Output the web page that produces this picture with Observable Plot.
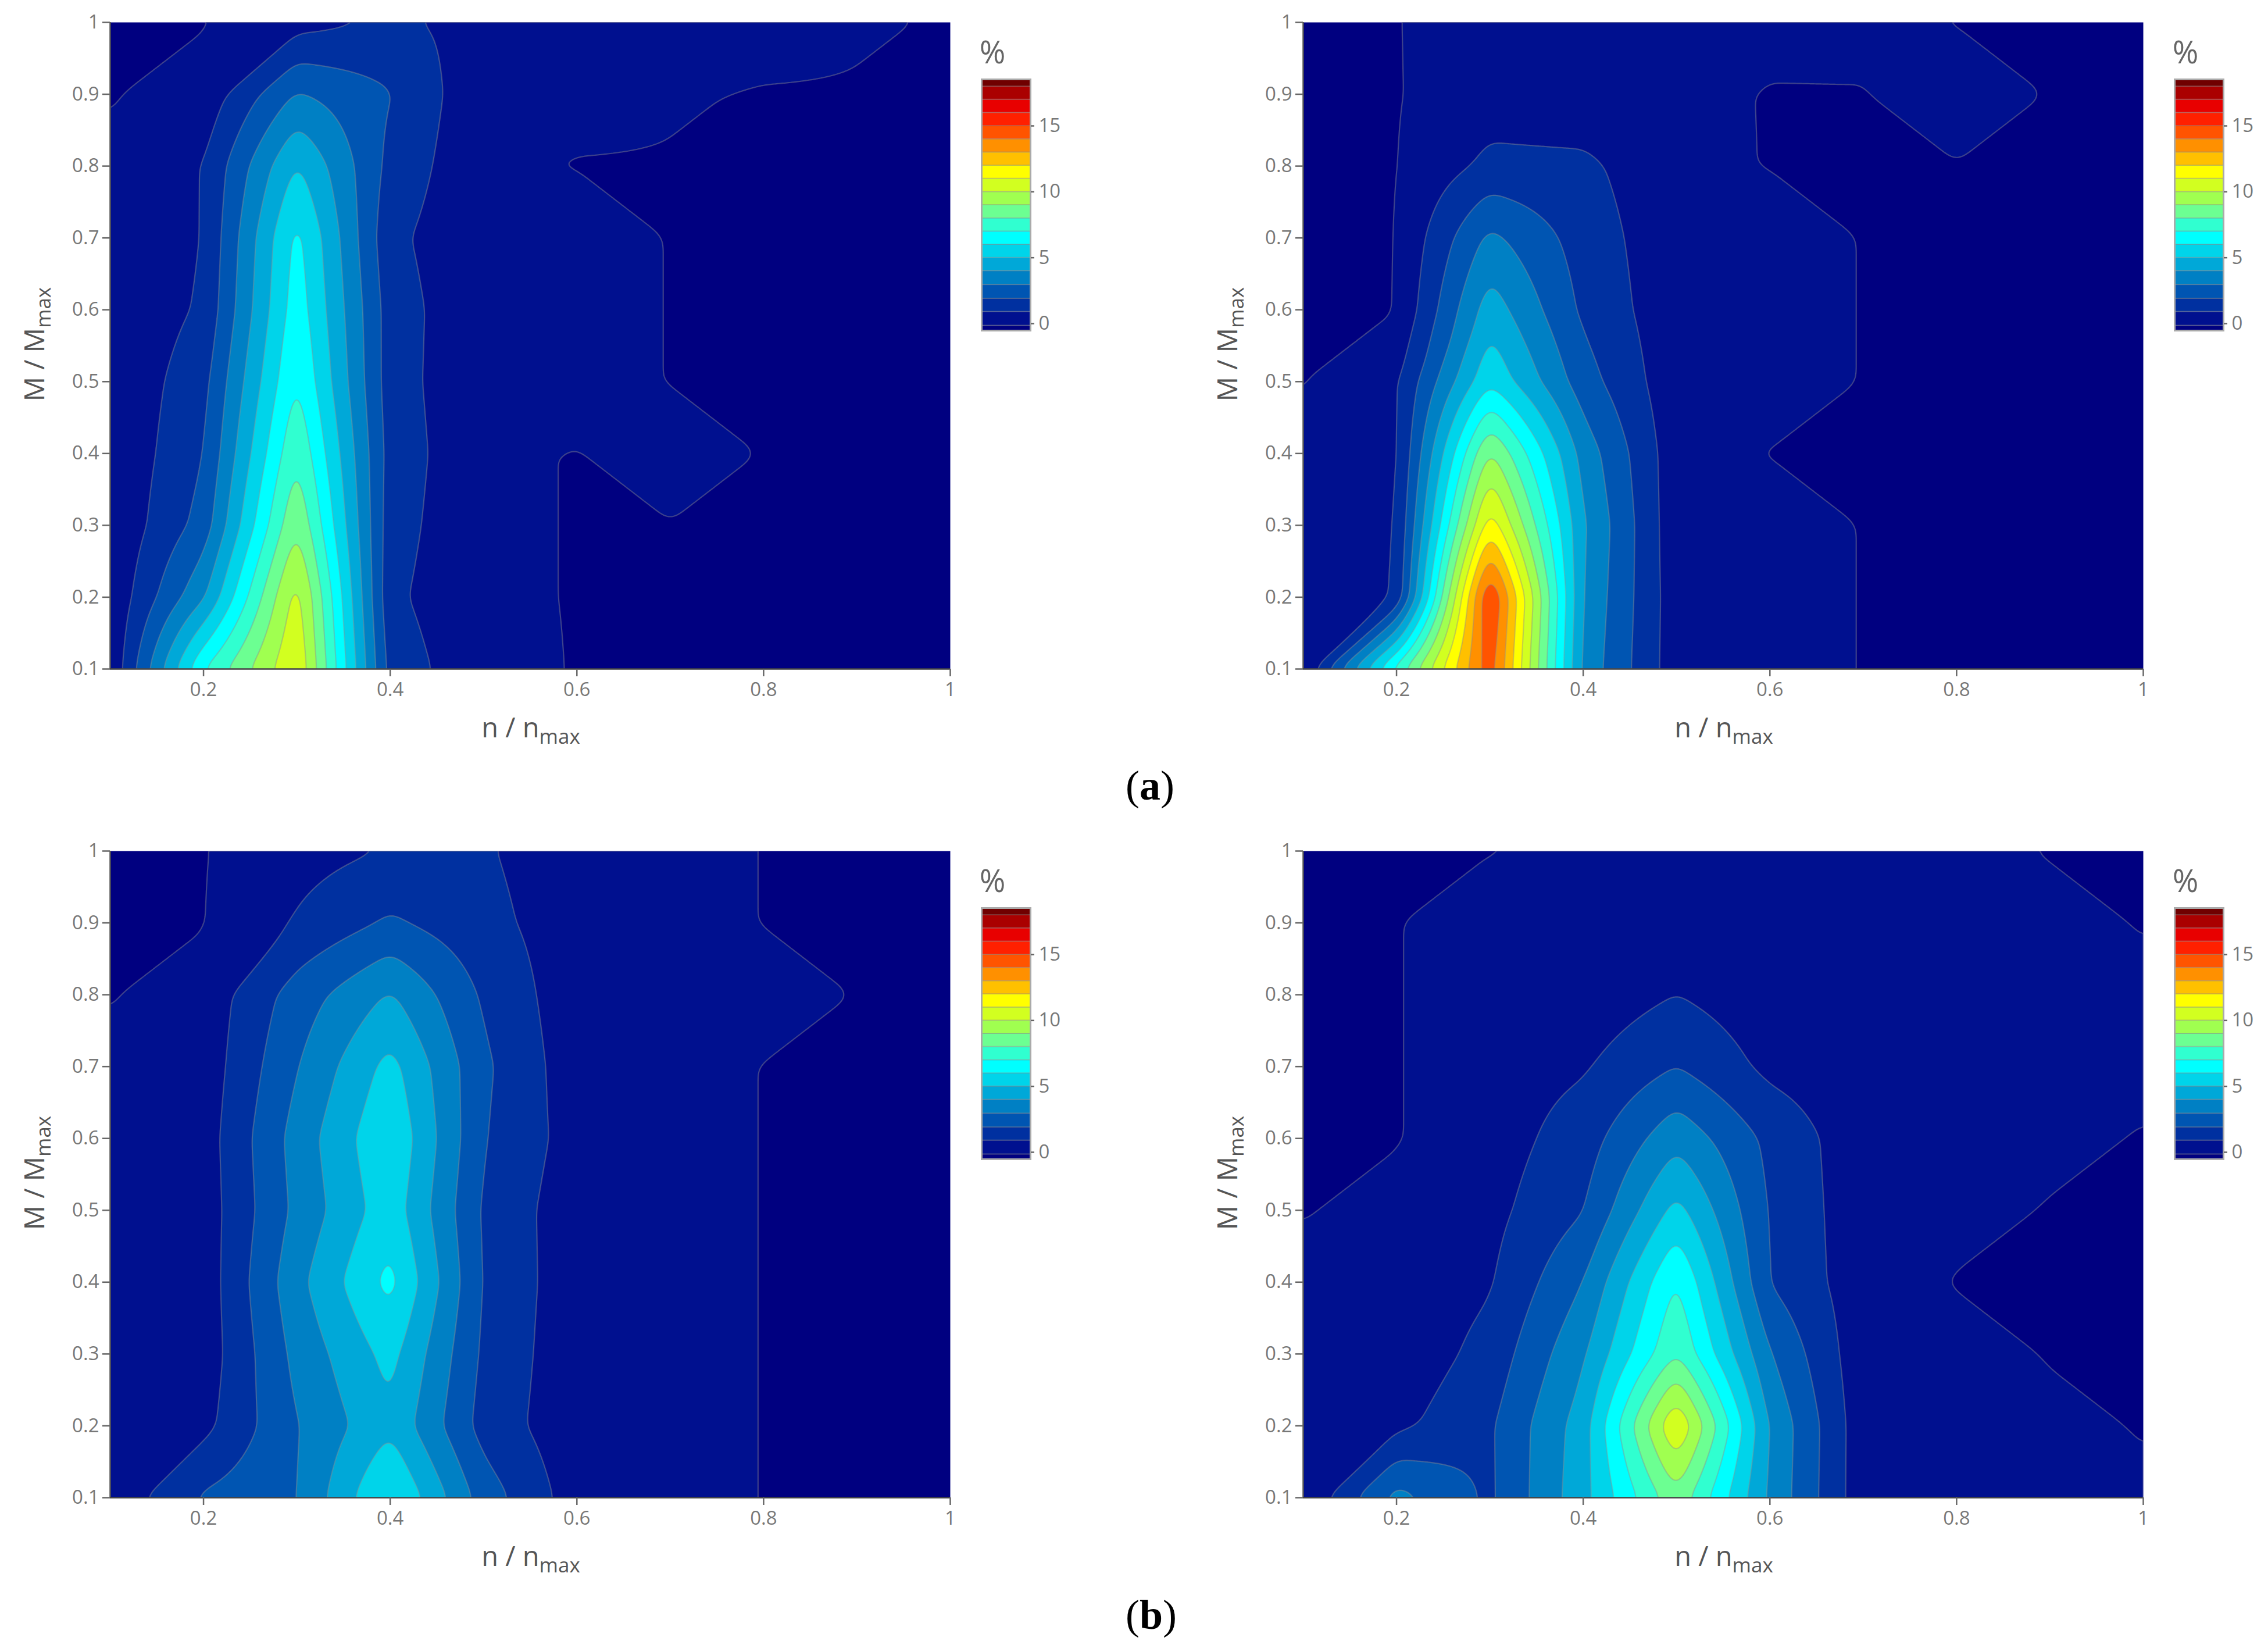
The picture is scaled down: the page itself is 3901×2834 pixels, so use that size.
<!DOCTYPE html>
<html><head><meta charset="utf-8">
<script src="https://cdn.jsdelivr.net/npm/d3@7"></script>
<script src="https://cdn.jsdelivr.net/npm/@observablehq/plot@0.6"></script>
<style>
html,body{margin:0;background:#fff}
#page{position:relative;width:3901px;height:2834px;background:#fff;overflow:hidden}
#page>svg,#page>div{position:absolute}
.cap{font-family:"Liberation Serif",serif;font-size:72px;color:#000;line-height:1;transform:translateX(-50%)}
</style></head><body><div id="page"></div>
<script>
// Grid axes of the four maps (rows run from M=0.1 up to M=1)
const nGrid = [0.1,0.2,0.3,0.4,0.5,0.6,0.7,0.8,0.9,1];
const mGrid = [0.1,0.2,0.3,0.4,0.5,0.6,0.7,0.8,0.9,1];
const xTicks = [0.2,0.4,0.6,0.8,1];
const yTicks = [0.1,0.2,0.3,0.4,0.5,0.6,0.7,0.8,0.9,1];
const barTicks = [0,5,10,15];

const mapA1 = [
 [.1,7,11,1.55,.3,0,0,0,0,0],
 [.15,3.85,10.5,1.2,.2,0,0,0,0,0],
 [.1,2.4,9,1.4,.2,0,0,0,0,0],
 [.1,1.95,7.95,1.55,.2,0,.5,0,0,0],
 [.1,1.65,7.1,1.45,.15,.5,0,0,0,0],
 [.1,1.15,6.6,1.5,.15,.5,0,0,0,0],
 [.1,1,6.35,1.25,.15,.5,0,0,0,0],
 [.15,1,5.1,1.7,.15,0,0,0,0,0],
 [0,.3,3.1,2.05,.2,.3,.1,0,0,0],
 [0,0,.6,1.15,.7,.4,.3,.3,.1,0]];
const mapA2 = [
 [.15,7.4,14.7,3.7,.4,.5,0,0,0,0],
 [.15,1.05,15.3,3.9,.4,.5,0,0,0,0],
 [.2,.95,11.7,4.1,.3,.5,0,0,0,0],
 [.2,.8,9.2,3.6,.35,0,0,0,0,0],
 [0,.85,5.85,2.45,.3,.5,0,0,0,0],
 [0,0,4.55,1.8,.3,.5,0,0,0,0],
 [0,0,3.25,1.55,.3,.5,0,0,0,0],
 [0,0,1.25,1.2,.3,0,0,0,0,0],
 [0,0,.5,.35,.25,0,0,.5,0,0],
 [0,0,.6,.25,.25,.25,.3,0,0,0]];
const mapB1 = [
 [.3,2.15,2.95,6.25,2.55,.47,.6,0,0,0],
 [.3,.7,2.95,4.8,1.6,.3,.6,0,0,0],
 [.3,.4,3.3,5.35,1.8,.3,.6,0,0,0],
 [.3,.4,3.7,6.35,1.9,.35,.6,0,0,0],
 [.3,.45,3.25,5.6,1.85,.35,.6,0,0,0],
 [.3,.5,3.4,5.95,2.05,.55,.6,0,0,0],
 [.2,.4,2.95,5.35,2.2,.4,.6,0,0,0],
 [0,.35,2.45,4.1,1.85,.35,.5,.5,0,0],
 [0,0,1.1,2.15,1.3,.45,.6,0,0,0],
 [0,0,.6,1.05,1.1,.4,.6,0,0,0]];
const mapB2 = [
 [.15,3.4,1.8,4.65,8.7,3.8,.35,.3,.25,.15],
 [.25,.75,1.85,4.5,11.1,3.9,.35,.3,.2,0],
 [.25,.3,1.35,3.85,8,3.05,.3,.3,0,0],
 [.25,.25,.9,3,7.1,1.95,.4,0,0,0],
 [0,.25,.7,1.95,5.35,1.9,.35,.25,0,0],
 [0,0,.5,1.5,3.7,1.75,.35,.3,.2,0],
 [0,0,.5,.9,2,.75,.3,.3,.25,.2],
 [0,0,.5,.35,1,.35,.3,.3,.25,.2],
 [0,0,.5,.3,.3,.3,.3,.3,.25,0],
 [0,0,0,.2,.25,.3,.3,.25,0,0]];

// Contour levels and the band colours between them
const levels = [0.04,1,2,3,4,5,6,7,8,9,10,11,12,13,14,15,16,17,18];
const bandColors = ["#000080","#00108f","#0030a0","#0055b2","#0080c4","#00a8d8","#00d4ea","#00ffff","#30ffd0",
 "#6cff92","#a0ff50","#d2ff20","#ffff00","#ffc000","#ff9000","#ff5400","#ff2000","#e80000","#aa0000","#700000"];
const barEdges = [-0.53,-0.15,0.9,1.9,2.95,4,5,6,7,8,9,10,11,12,13,14,15,16,17,18,18.53];

// Surface over one grid cell. Edges are always linear in the grid values; cells where a
// single corner stands out or a saddle forms are split in two triangles, the way
// marching squares joins its crossings, all other cells are bilinear.
const sampler = grid => (x, y) => {
  const i = Math.min(8, Math.max(0, d3.bisectRight(nGrid, x) - 1));
  const j = Math.min(8, Math.max(0, d3.bisectRight(mGrid, y) - 1));
  const u = (x - nGrid[i]) / (nGrid[i+1] - nGrid[i]);
  const v = (y - mGrid[j]) / (mGrid[j+1] - mGrid[j]);
  const a = grid[j][i], b = grid[j][i+1], c = grid[j+1][i], d = grid[j+1][i+1];
  const hi = q => q > 0.045;
  const n = hi(a) + hi(b) + hi(c) + hi(d);
  let anti = null; // true: split along b–c, false: split along a–d
  if (n === 1) anti = hi(a) || hi(d);
  if (n === 3) anti = !hi(a) || !hi(d);
  if (n === 2 && hi(a) === hi(d)) anti = hi(b);
  const sorted = [a, b, c, d].sort((p, q) => q - p);
  if (anti === null && sorted[0] >= 2 && sorted[0] > 3 * sorted[1]) anti = (a === sorted[0] || d === sorted[0]);
  if (anti === null) return (1-u)*(1-v)*a + u*(1-v)*b + (1-u)*v*c + u*v*d;
  if (anti) {
    return u + v <= 1 ? a + (b - a) * u + (c - a) * v
                      : d + (c - d) * (1 - u) + (b - d) * (1 - v);
  }
  return u >= v ? b + (a - b) * (1 - u) + (d - b) * v
                : c + (d - c) * u + (a - c) * (1 - v);
};

const FONT = '"Open Sans",sans-serif';
const page = document.getElementById("page");

function label(svg, x, y, rot, main, sub) {
  const t = d3.select(svg).append("text")
    .attr("transform", `translate(${x},${y}) rotate(${rot})`)
    .attr("text-anchor", "middle").attr("fill", "#555")
    .attr("font-family", FONT).attr("font-size", 47);
  t.append("tspan").text(main);
  t.append("tspan").attr("dy", 11).attr("font-size", 35).text(sub);
}

function panel(grid, left, top) {
  const svg = Plot.plot({
    width: 1660, height: 1300,
    marginLeft: 189, marginTop: 38, marginRight: 26, marginBottom: 150,
    style: {fontFamily: FONT, background: "transparent", overflow: "visible"},
    x: {domain: [0.1, 1]},
    y: {domain: [0.1, 1]},
    color: {type: "threshold", domain: levels, range: bandColors},
    marks: [
      Plot.frame({fill: bandColors[0], stroke: null}),
      Plot.contour({
        fill: sampler(grid),
        x1: 0.1, y1: 0.1, x2: 1, y2: 1,
        thresholds: levels, blur: 5, pixelSize: 2,
        stroke: "#909090", strokeOpacity: 0.42, strokeWidth: 2.2, clip: true
      }),
      Plot.ruleX([0.1], {stroke: "#555", strokeWidth: 2.5}),
      Plot.ruleY([0.1], {stroke: "#444", strokeWidth: 2.5}),
      Plot.axisX({ticks: xTicks, tickFormat: d3.format("~g"), label: null, tickSize: 13, tickPadding: 10,
        fontSize: 33, color: "#777", stroke: "#666", strokeWidth: 2.5}),
      Plot.axisY({ticks: yTicks, tickFormat: d3.format("~g"), label: null, tickSize: 13, tickPadding: 6,
        fontSize: 33, color: "#777", stroke: "#666", strokeWidth: 2.5})
    ]
  });
  label(svg, 913, 1268, 0, "n / n", "max");
  label(svg, 76, 592, -90, "M / M", "max");
  svg.style.left = left + "px"; svg.style.top = top + "px";
  page.appendChild(svg);
}

function colorbar(left, top) {
  const bands = d3.pairs(barEdges).map(([lo, hi], i) => ({lo, hi, color: bandColors[i]}));
  const svg = Plot.plot({
    width: 240, height: 470,
    marginLeft: 33, marginRight: 123, marginTop: 26, marginBottom: 12,
    style: {fontFamily: FONT, background: "transparent", overflow: "visible"},
    x: {domain: [0, 1], axis: null},
    y: {domain: [-0.53, 18.53]},
    color: {type: "identity"},
    marks: [
      Plot.rect(bands, {x1: 0, x2: 1, y1: "lo", y2: "hi", fill: "color", stroke: "#8a8a8a", strokeOpacity: 0.35, strokeWidth: 2}),
      Plot.frame({stroke: "#aaa", strokeWidth: 3}),
      Plot.axisY({anchor: "right", ticks: barTicks, label: null, tickSize: 6, tickPadding: 8,
        fontSize: 33, color: "#777", stroke: "#666", strokeWidth: 2.5})
    ]
  });
  d3.select(svg).append("text").attr("x", 52).attr("y", -1)
    .attr("text-anchor", "middle").attr("fill", "#666").attr("font-family", FONT).attr("font-size", 54).text("%");
  svg.style.left = left + "px"; svg.style.top = top + "px";
  page.appendChild(svg);
}

function caption(letter, x, y) {
  const d = document.createElement("div");
  d.className = "cap";
  d.style.left = x + "px"; d.style.top = y + "px";
  d.innerHTML = "(<b>" + letter + "</b>)";
  page.appendChild(d);
}

panel(mapA1, 0, 0);
panel(mapA2, 2052, 0);
panel(mapB1, 0, 1425);
panel(mapB2, 2052, 1425);
colorbar(1655, 110);
colorbar(3707, 110);
colorbar(1655, 1535);
colorbar(3707, 1535);
caption("a", 1978, 1315);
caption("b", 1980, 2741);
</script></body></html>
